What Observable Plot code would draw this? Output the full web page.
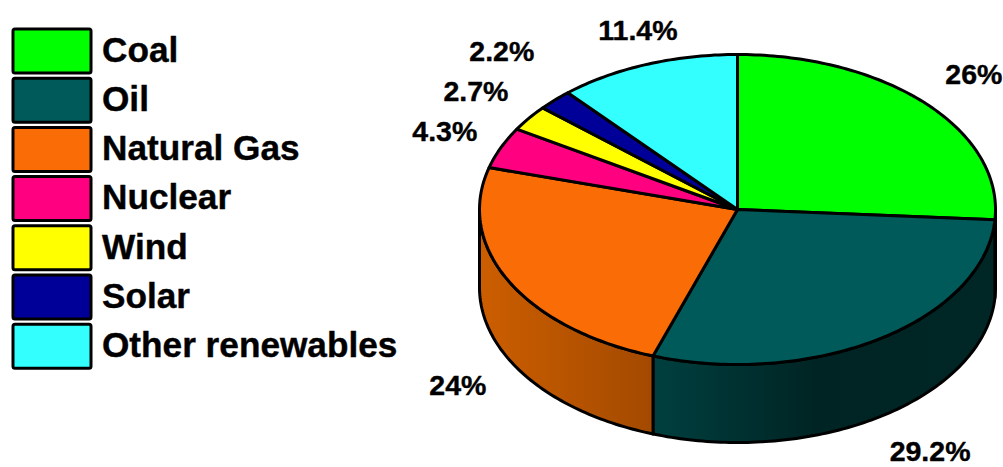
<!DOCTYPE html>
<html>
<head>
<meta charset="utf-8">
<script src="https://cdn.jsdelivr.net/npm/d3@7"></script>
<script src="https://cdn.jsdelivr.net/npm/@observablehq/plot@0.6"></script>
<style>
  html, body { margin: 0; padding: 0; background: #fff; }
</style>
</head>
<body>
<div id="chart"></div>
<script>
// Energy mix, share of each source in percent
const sources = ["Coal", "Oil", "Natural Gas", "Nuclear", "Wind", "Solar", "Other renewables"];
const shares = [26, 29.2, 24, 4.3, 2.7, 2.2, 11.4];
const shareLabels = ["26%", "29.2%", "24%", "4.3%", "2.7%", "2.2%", "11.4%"];
const colors = ["#00ff00", "#005a5a", "#fa6c06", "#ff0080", "#ffff00", "#000099", "#33ffff"];

// Pie geometry, in the pixel-sized units of the x and y scales
const W = 1003, H = 467;
const pie = {cx: 737, cy: 209, rx: 258, ry: 155, depth: 78};
const rim = (deg, drop = 0) => {
  const a = deg * Math.PI / 180;
  return {x: pie.cx + pie.rx * Math.sin(a), y: pie.cy - pie.ry * Math.cos(a) + drop};
};
const arc = (from, to, drop = 0) =>
  [...d3.range(from, to, 1), to].map((deg) => rim(deg, drop));

// Cumulative start and end angles, clockwise from twelve o'clock
const total = d3.sum(shares);
let running = 0;
const slices = sources.map((source, i) => {
  const a0 = running / total * 360;
  running += shares[i];
  return {source, i, a0, a1: running / total * 360};
});

// Top face wedges
const wedges = slices.flatMap((s) => {
  const pts = [{x: pie.cx, y: pie.cy}, ...arc(s.a0, s.a1), {x: pie.cx, y: pie.cy}];
  return pts.map((p) => ({...p, source: s.source}));
});

// Front wall: only the part of the rim between 90 and 270 degrees is visible
const walls = slices.flatMap((s) => {
  const from = Math.max(s.a0, 90), to = Math.min(s.a1, 270);
  if (from >= to) return [];
  const pts = [...arc(from, to), ...arc(from, to, pie.depth).reverse()];
  pts.push(pts[0]);
  return pts.map((p) => ({...p, source: s.source}));
});
const wallFill = {"Coal": "url(#wall-coal)", "Oil": "url(#wall-oil)", "Natural Gas": "url(#wall-gas)"};

// Label placement: offset from the rim at each slice's middle angle
const labelOffsets = [[48, -29], [50, 113], [-51, 105], [-56, -16], [-53, -26], [-53, -48], [-9, -33]];
const labels = slices.map((s) => {
  const p = rim((s.a0 + s.a1) / 2);
  return {x: p.x + labelOffsets[s.i][0], y: p.y + labelOffsets[s.i][1], text: shareLabels[s.i]};
});

// Legend rows
const legendTop = 29, legendPitch = 49.2, swatchHeight = 44;
const legend = sources.map((source, i) => ({
  source,
  y1: legendTop + i * legendPitch,
  y2: legendTop + i * legendPitch + swatchHeight
}));

// Horizontal shading of the front wall
const shading = [
  {id: "wall-coal", stops: [[0, "#006000"], [1, "#006000"]]},
  {id: "wall-oil", stops: [[0.33, "#004040"], [0.65, "#002424"], [1, "#002626"]]},
  {id: "wall-gas", stops: [[0, "#cc5e00"], [0.33, "#a44a00"]]}
];
const wallGradients = () => {
  const defs = d3.create("svg:defs");
  for (const g of shading) {
    const grad = defs.append("linearGradient")
      .attr("id", g.id)
      .attr("gradientUnits", "userSpaceOnUse")
      .attr("x1", pie.cx - pie.rx).attr("x2", pie.cx + pie.rx)
      .attr("y1", 0).attr("y2", 0);
    for (const [offset, color] of g.stops) {
      grad.append("stop").attr("offset", offset).attr("stop-color", color);
    }
  }
  return defs.node();
};

const outline = {stroke: "#000", strokeWidth: 3, strokeLinejoin: "round"};

const chart = Plot.plot({
  width: W,
  height: H,
  margin: 0,
  style: {background: "#fff", fontFamily: "'Liberation Sans', Arial, sans-serif"},
  x: {domain: [0, W], range: [0, W], axis: null},
  y: {domain: [0, H], range: [0, H], axis: null},
  color: {domain: sources, range: colors, legend: false},
  marks: [
    wallGradients,
    ...Object.entries(wallFill).map(([source, fill]) =>
      Plot.line(walls.filter((d) => d.source === source), {x: "x", y: "y", fill, ...outline})
    ),
    Plot.line(wedges, {x: "x", y: "y", z: "source", fill: "source", ...outline}),
    Plot.rect(legend, {
      x1: () => 13, x2: () => 91, y1: "y1", y2: "y2",
      fill: "source", rx: 2, ...outline
    }),
    Plot.text(legend, {
      x: () => 101.5, y: (d) => (d.y1 + d.y2) / 2 - 1, text: "source",
      textAnchor: "start", lineAnchor: "middle",
      fontSize: 35.2, fontWeight: "bold", fill: "#000", stroke: "#000", strokeWidth: 0.4
    }),
    Plot.text(labels, {
      x: "x", y: "y", text: "text", lineAnchor: "middle",
      fontSize: 28.5, fontWeight: "bold", fill: "#000", stroke: "#000", strokeWidth: 0.4
    })
  ]
});

document.getElementById("chart").append(chart);
</script>
</body>
</html>
